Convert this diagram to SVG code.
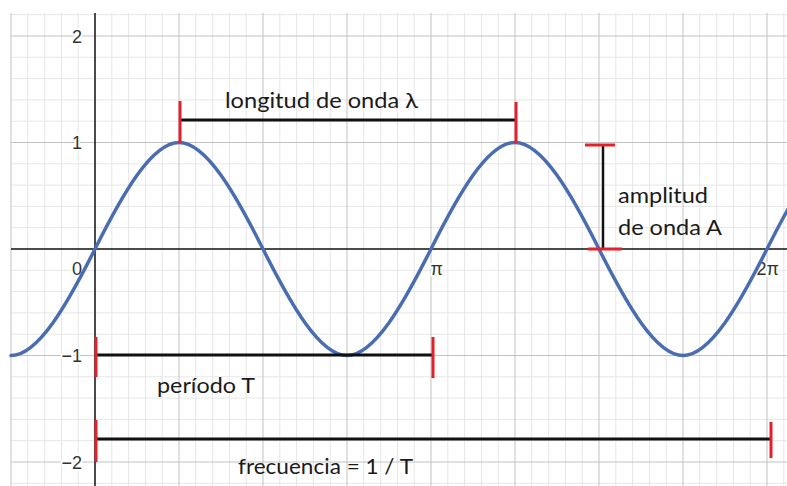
<svg xmlns="http://www.w3.org/2000/svg" width="787" height="486" viewBox="0 0 787 486">
<style>
.minor{stroke:#e6e6e6;stroke-width:1;fill:none}
.major{stroke:#c2c2c2;stroke-width:1;fill:none}
.axis{stroke:#111;stroke-width:1.5;fill:none}
.num{font-family:"Liberation Sans",Arial,sans-serif;font-size:18px;fill:#333;text-anchor:end}
.halo{stroke:#fff;stroke-width:4;stroke-linejoin:round;paint-order:stroke}
.lbl{font-family:Lato,"Open Sans",sans-serif;font-size:21px;fill:#1a1a1a}
.bar{stroke:#111;stroke-width:3;fill:none}
.tick{stroke:#e3202c;stroke-width:3;fill:none}
.wave{stroke:#4a6db2;stroke-width:3.5;fill:none;stroke-linecap:round}
</style>
<rect width="787" height="486" fill="#fff"/>
<g id="grid">
<path class="minor" d="M27.8 13V486M44.6 13V486M61.4 13V486M78.2 13V486M111.8 13V486M128.6 13V486M145.4 13V486M162.2 13V486M195.8 13V486M212.6 13V486M229.4 13V486M246.2 13V486M279.8 13V486M296.6 13V486M313.4 13V486M330.2 13V486M363.8 13V486M380.6 13V486M397.4 13V486M414.2 13V486M447.8 13V486M464.6 13V486M481.4 13V486M498.2 13V486M531.8 13V486M548.6 13V486M565.4 13V486M582.2 13V486M615.8 13V486M632.6 13V486M649.4 13V486M666.2 13V486M699.8 13V486M716.6 13V486M733.4 13V486M750.2 13V486M783.8 13V486"/>
<path class="minor" d="M11 14.7H787M11 57.3H787M11 78.6H787M11 99.9H787M11 121.2H787M11 163.8H787M11 185.1H787M11 206.4H787M11 227.7H787M11 270.3H787M11 291.6H787M11 312.9H787M11 334.2H787M11 376.8H787M11 398.1H787M11 419.4H787M11 440.7H787M11 483.3H787"/>
<path class="major" d="M11 13V486M179 13V486M263 13V486M347 13V486M431 13V486M515 13V486M599 13V486M683 13V486M767 13V486"/>
<path class="major" d="M11 36H787M11 142.5H787M11 355.5H787M11 462H787"/>
<path class="axis" d="M95 13V486M11 249H787"/>
</g>
<g id="axis-labels">
<text class="num halo" x="82" y="43">2</text>
<text class="num halo" x="82" y="149">1</text>
<text class="num halo" x="82" y="275">0</text>
<text class="num halo" x="82" y="362">−1</text>
<text class="num halo" x="82" y="469">−2</text>
<text class="num halo" x="443" y="275">π</text>
<text class="num halo" x="779" y="275">2π</text>
</g>
<g id="wave">
<path class="wave" d="M11 355.5c27.39 0 56.6-51.95 84-106.5c27.39-54.55 56.6-106.5 84-106.5c27.4 0 56.61 51.95 84 106.5c27.39 54.55 56.6 106.5 84 106.5c27.39 0 56.6-51.95 84-106.5c27.39-54.55 56.6-106.5 84-106.5c27.4 0 56.61 51.95 84 106.5c27.39 54.55 56.6 106.5 84 106.5c27.39 0 56.6-51.95 84-106.5c27.39-54.55 56.6-106.5 84-106.5"/>
</g>
<g id="connectors">
<path class="bar" d="M181 120H516"/>
<path class="tick" d="M180 101V143M516 102V143"/>
<path class="bar" d="M603 145V249" style="stroke-width:2.5"/>
<path class="tick" d="M585 145H615M588 249H622"/>
<path class="bar" d="M97 355H432"/>
<path class="tick" d="M96 337V377M433 337V378"/>
<path class="bar" d="M97 439H771"/>
<path class="tick" d="M96 420V462M771 422V458"/>
</g>
<g id="label-wavelength"><text class="lbl" x="225" y="108" textLength="193" lengthAdjust="spacingAndGlyphs">longitud de onda λ</text></g>
<g id="label-amplitude"><text class="lbl" x="618" y="203" textLength="90" lengthAdjust="spacingAndGlyphs">amplitud</text><text class="lbl" x="618" y="235" textLength="104" lengthAdjust="spacingAndGlyphs">de onda A</text></g>
<g id="label-period"><text class="lbl" x="157" y="393" textLength="98" lengthAdjust="spacingAndGlyphs">período T</text></g>
<g id="label-frequency"><text class="lbl" x="238" y="474" textLength="175" lengthAdjust="spacingAndGlyphs">frecuencia = 1 / T</text></g>
</svg>
